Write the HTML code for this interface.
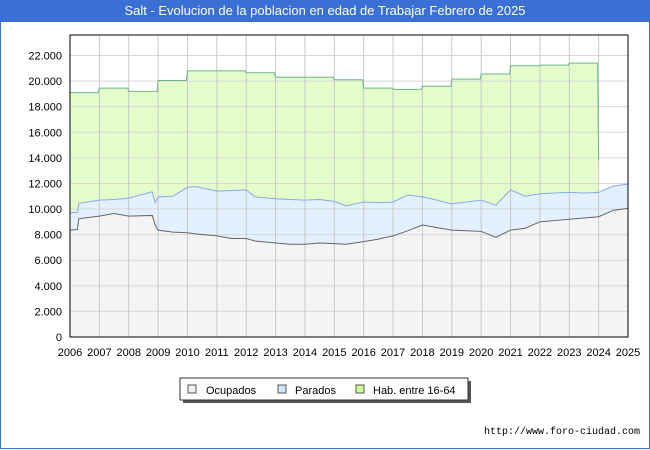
<!DOCTYPE html>
<html><head><meta charset="utf-8"><style>
body{margin:0;width:650px;height:450px;background:#fff;font-family:"Liberation Sans","DejaVu Sans",sans-serif;overflow:hidden;position:relative}
#frame{position:absolute;left:0;top:0;width:648px;height:448px;border:1px solid #3a6fd6;border-top:none}
#title{position:absolute;left:0;top:0;width:650px;height:22px;background:#3a6fd6;color:#fff;font-size:13px;line-height:22px;text-align:center}
#url{position:absolute;right:10px;top:427px;font-size:10px;font-family:"Liberation Mono","DejaVu Sans Mono",monospace}
</style></head><body>
<div id="frame"></div>
<div id="title">Salt - Evolucion de la poblacion en edad de Trabajar Febrero de 2025</div>
<svg id="chart" width="650" height="450" style="position:absolute;left:0;top:0">
<g id="bg"></g><g id="areas"></g><g id="grid"></g><g id="series"></g><g id="axes"></g>
<g>
<rect x="183" y="381" width="288" height="22" fill="#555"/>
<rect x="180" y="378" width="288" height="22" fill="#fff" stroke="#333"/>
<rect x="188" y="385" width="8" height="8" fill="#f0f0f0" stroke="#555"/>
<text x="206" y="394" font-size="11">Ocupados</text>
<rect x="278" y="385" width="8" height="8" fill="#d0e8ff" stroke="#555"/>
<text x="295" y="394" font-size="11">Parados</text>
<rect x="356" y="385" width="8" height="8" fill="#ccff99" stroke="#555"/>
<text x="373" y="394" font-size="11">Hab. entre 16-64</text>
</g>
</svg>
<div id="url">http://www.foro-ciudad.com</div>
<script>
const yearTicks=[2006,2007,2008,2009,2010,2011,2012,2013,2014,2015,2016,2017,2018,2019,2020,2021,2022,2023,2024,2025];
const yTicks=[0,2000,4000,6000,8000,10000,12000,14000,16000,18000,20000,22000];
const yTickLabels=["0","2.000","4.000","6.000","8.000","10.000","12.000","14.000","16.000","18.000","20.000","22.000"];
const habYears=[2006,2007,2008,2009,2010,2011,2012,2013,2014,2015,2016,2017,2018,2019,2020,2021,2022,2023];
const habValues=[19100,19450,19200,20050,20800,20800,20650,20300,20300,20100,19450,19350,19600,20150,20550,21200,21250,21400];
const habEndValue=13800;
const paradosT=[2006,2006.25,2006.3,2007,2007.5,2008,2008.8,2008.9,2009,2009.5,2010,2010.3,2011,2011.5,2012,2012.3,2013,2013.5,2014,2014.5,2015,2015.4,2016,2016.5,2017,2017.5,2018,2018.5,2019,2019.5,2020,2020.5,2021,2021.5,2022,2022.5,2023,2023.5,2024,2024.5,2025];
const paradosTop=[9700,9750,10450,10700,10750,10850,11350,10500,10950,11000,11700,11750,11400,11450,11500,10950,10800,10750,10700,10750,10600,10250,10550,10500,10550,11100,10950,10700,10400,10550,10700,10300,11500,11000,11200,11250,11300,11250,11300,11800,11950];
const ocupados=[8350,8400,9250,9450,9650,9450,9500,8750,8350,8200,8150,8050,7900,7700,7700,7500,7350,7250,7250,7350,7300,7250,7450,7650,7900,8300,8750,8550,8350,8300,8250,7800,8350,8500,9000,9100,9200,9300,9400,9900,10050];
const X=y=>70+(y-2006)*(558/19), Y=v=>337-v*(281.5/22000);
const NS="http://www.w3.org/2000/svg";
function mk(parent,tag,attrs){const e=document.createElementNS(NS,tag);for(const k in attrs)e.setAttribute(k,attrs[k]);document.getElementById(parent).appendChild(e);return e;}
mk('bg','rect',{x:70,y:35,width:558,height:302,fill:'#fff'});
yTicks.forEach((v,i)=>{if(v>0){const l=mk('grid','line',{x1:70,x2:628,y1:Y(v),y2:Y(v),stroke:'#d8d8d8'});

}
const t=mk('axes','text',{x:62,y:Y(v)+4,'font-size':11,'text-anchor':'end'});t.textContent=yTickLabels[i];

});
yearTicks.forEach(yr=>{const l=mk('grid','line',{x1:X(yr),x2:X(yr),y1:35,y2:337,stroke:'#c8c8c8'});


const t=mk('axes','text',{x:X(yr),y:356,'font-size':11,'text-anchor':'middle'});t.textContent=yr;

});
let hp=[];habYears.forEach((yr,i)=>{hp.push([X(yr),Y(habValues[i])]);hp.push([X(yr+1)-1,Y(habValues[i])]);});
hp.push([X(2024),Y(habEndValue)]);
const habLine='M'+hp.map(p=>p.join(',')).join('L');
const habArea=mk('areas','path',{d:habLine+`L${X(2024)},337L70,337Z`,fill:'#e5fdcb'});


const pTop=paradosT.map((t,i)=>[X(t),Y(paradosTop[i])]);
const pLine='M'+pTop.map(p=>p.join(',')).join('L');
const pArea=mk('areas','path',{d:pLine+`L${X(2025)},337L70,337Z`,fill:'#e2f0ff'});


const oTop=paradosT.map((t,i)=>[X(t),Y(ocupados[i])]);
const oLine='M'+oTop.map(p=>p.join(',')).join('L');
const oArea=mk('areas','path',{d:oLine+`L${X(2025)},337L70,337Z`,fill:'#f4f4f4'});


const hl=mk('series','path',{d:habLine,fill:'none',stroke:'#6bb58a','stroke-width':1});


const pl=mk('series','path',{d:pLine,fill:'none',stroke:'#8aa8e8','stroke-width':1});


const ol=mk('series','path',{d:oLine,fill:'none',stroke:'#666','stroke-width':1});


const fr=mk('series','rect',{x:70,y:35,width:558,height:302,fill:'none',stroke:'#000'});


</script>
</body></html>
